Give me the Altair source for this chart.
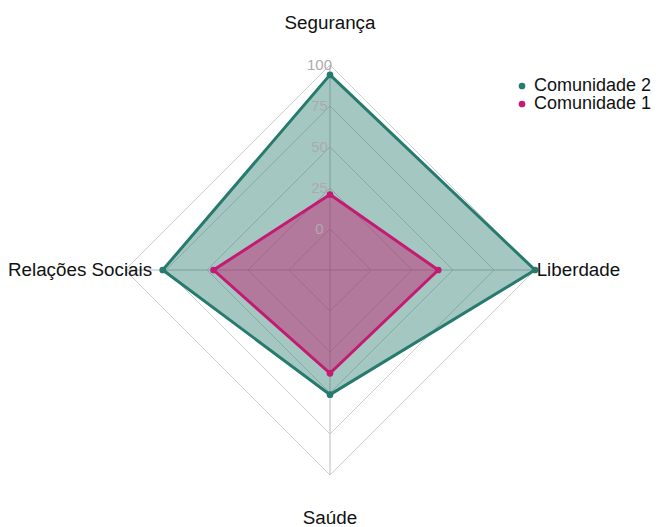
import math
import altair as alt
import pandas as pd

# ---------------- data ----------------
axes_names = ["Segurança", "Liberdade", "Saúde", "Relações Sociais"]
comunidade_1 = [21, 41, 38, 46]
comunidade_2 = [94, 100, 51, 77]
grid_ticks = [0, 25, 50, 75, 100]
series_names = ["Comunidade 2", "Comunidade 1"]

# ---------------- layout / style ----------------
OFFSET = 25          # radius (in value units) of the "0" ring
S = 1.64             # px per value unit
W, H = 646, 519      # plot area (autosize none, padding 0)
CX, CY = 322, 262    # centre inside the plot area (px)
TEAL = "#267a6e"
PINK = "#c41a72"
RING = "#cfcfcf"
SPOKE = "#b9b9b9"
FONT = "Liberation Sans"
LABEL_R = [150.5, 126.0, 151.5, 108.5]        # label distance per axis (units)
LABEL_ALIGN = ["center", "left", "center", "right"]

xdom = [-CX / S, (W - CX) / S]
ydom = [-(H - CY) / S, CY / S]


def ang(i):
    return math.pi / 2 - i * 2 * math.pi / len(axes_names)


xs = alt.Scale(domain=xdom, zero=False, nice=False)
ys = alt.Scale(domain=ydom, zero=False, nice=False)

# series table
rows = []
for sname, vals in [("Comunidade 2", comunidade_2), ("Comunidade 1", comunidade_1)]:
    for i, (a, v) in enumerate(zip(axes_names, vals)):
        r = v + OFFSET
        rows.append(dict(series=sname, axis=a, order=i, value=v,
                         x=r * math.cos(ang(i)), y=r * math.sin(ang(i))))
df = pd.DataFrame(rows)

# rings
ring_rows = []
for t in grid_ticks:
    for i, a in enumerate(axes_names):
        r = t + OFFSET
        ring_rows.append(dict(tick=t, order=i, x=r * math.cos(ang(i)), y=r * math.sin(ang(i))))
rings_df = pd.DataFrame(ring_rows)

# spokes
rmax = max(grid_ticks) + OFFSET
spoke_df = pd.DataFrame([dict(axis=a, x=0.0, y=0.0,
                              x2=rmax * math.cos(ang(i)), y2=rmax * math.sin(ang(i)))
                         for i, a in enumerate(axes_names)])

# tick labels
tick_df = pd.DataFrame([dict(label=str(t), x=-10.5 / S, y=t + OFFSET) for t in grid_ticks])

# axis labels
lab_df = pd.DataFrame([dict(label=a, x=LABEL_R[i] * math.cos(ang(i)),
                            y=LABEL_R[i] * math.sin(ang(i)), anchor=LABEL_ALIGN[i])
                       for i, a in enumerate(axes_names)])

X = lambda f="x": alt.X(f, type="quantitative", scale=xs, axis=None)
Y = lambda f="y": alt.Y(f, type="quantitative", scale=ys, axis=None)

rings = alt.Chart(rings_df).mark_line(
    interpolate="linear-closed", stroke=RING, strokeWidth=1
).encode(x=X(), y=Y(), detail="tick:N", order="order:Q")

spokes = alt.Chart(spoke_df).mark_rule(stroke=SPOKE, strokeWidth=1).encode(
    x=X(), y=Y(), x2="x2:Q", y2="y2:Q")

polys = []
for sname, col, op in [("Comunidade 2", TEAL, 0.42), ("Comunidade 1", PINK, 0.45)]:
    polys.append(
        alt.Chart(df[df["series"] == sname]).mark_line(
            interpolate="linear-closed", stroke=col, strokeWidth=3,
            fill=col, fillOpacity=op
        ).encode(x=X(), y=Y(), order="order:Q")
    )

points = alt.Chart(df).mark_circle(size=45, opacity=1).encode(
    x=X(), y=Y(),
    color=alt.Color("series:N",
                    scale=alt.Scale(domain=series_names, range=[TEAL, PINK]),
                    legend=alt.Legend(title=None, orient="none", legendX=505, legendY=69,
                                      labelFontSize=18, labelFont=FONT, labelColor="#111",
                                      symbolType="circle", symbolSize=45, symbolStrokeWidth=0,
                                      labelOffset=3, rowPadding=-4, padding=0))
)

ticks = alt.Chart(tick_df).mark_text(
    fontSize=15, font=FONT, color="#ababab", align="center", baseline="middle"
).encode(x=X(), y=Y(), text="label:N")

labels_layers = []
for al in ["center", "left", "right"]:
    labels_layers.append(
        alt.Chart(lab_df[lab_df["anchor"] == al]).mark_text(
            fontSize=18.8, font=FONT, color="#111", align=al, baseline="middle"
        ).encode(x=X(), y=Y(), text="label:N")
    )

chart = alt.layer(rings, spokes, *polys, points, ticks, *labels_layers).properties(
    width=W, height=H, padding=0, autosize=alt.AutoSizeParams(type="none")
).configure_view(stroke=None)

chart.save("out.html", embed_options={"renderer": "svg", "actions": False})
